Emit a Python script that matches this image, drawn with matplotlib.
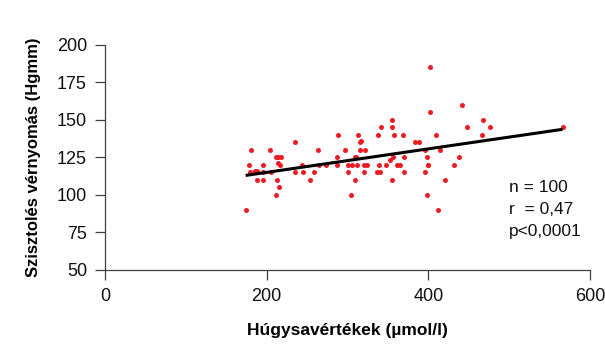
import numpy as np
import matplotlib
matplotlib.use("Agg")
import matplotlib.pyplot as plt

plt.rcParams['font.family'] = ['Liberation Sans', 'DejaVu Sans']

# Uric acid (µmol/l) and systolic blood pressure (Hgmm) per patient
uric_acid = [
    181, 235, 204, 178, 195, 179, 185, 188, 196, 205, 211, 214, 218, 214, 216,
    188, 195, 213, 215, 211, 174, 235, 244, 245, 254, 259,
    264, 265, 273, 288, 297, 287, 287, 313, 315, 317, 315, 322, 309, 311,
    301, 306, 312, 320, 324, 339, 300, 320, 336, 340, 309, 304, 338, 341,
    402, 402, 355, 355, 357, 368, 409, 384, 389, 396, 414, 370, 356, 352,
    398, 348, 361, 365, 399, 400, 432, 370, 396, 421, 355, 398, 412,
    442, 468, 448, 476, 466, 438, 566,
]
systolic = [
    130, 135, 130, 120, 120, 115, 116, 116, 115, 115, 125, 125, 125, 121, 120,
    110, 110, 110, 105, 100, 90, 115, 120, 115, 110, 115,
    130, 120, 120, 140, 130, 125, 120, 140, 135, 136, 130, 130, 125, 125,
    120, 120, 120, 120, 120, 120, 115, 115, 115, 115, 110, 100, 140, 145,
    185, 155, 150, 145, 140, 140, 140, 135, 135, 130, 130, 125, 125, 123,
    125, 120, 120, 120, 120, 120, 120, 115, 115, 110, 110, 100, 90,
    160, 150, 145, 145, 140, 125, 145,
]

# Linear regression line
fit_slope = 0.0784
fit_intercept = 99.4

stats_lines = ["n = 100", "r  = 0,47", "p<0,0001"]

x_ticks = [0, 200, 400, 600]
y_ticks = [50, 75, 100, 125, 150, 175, 200]

fig = plt.figure(figsize=(6.05, 3.45), dpi=100)
ax = fig.add_axes([0.1736, 0.2174, 0.8017, 0.6522])

ax.scatter(uric_acid, systolic, s=13, color='#EC1C24', linewidths=0, zorder=2)

x_fit = np.array([min(uric_acid), max(uric_acid)])
ax.plot(x_fit, fit_intercept + fit_slope * x_fit, color='black', lw=2.2,
        solid_capstyle='butt', zorder=3)

ax.set_xlim(0, 600)
ax.set_ylim(50, 200)
ax.set_xticks(x_ticks)
ax.set_yticks(y_ticks)

for side in ('top', 'right'):
    ax.spines[side].set_visible(False)
for side in ('left', 'bottom'):
    ax.spines[side].set_color('#404040')
    ax.spines[side].set_linewidth(0.9)

ax.tick_params(axis='both', direction='out', length=7, width=0.9,
               color='#404040', labelsize=13, labelcolor='#111111', pad=6)

ax.set_xlabel('Húgysavértékek (µmol/l)', fontsize=12.5, fontweight='bold',
              labelpad=13)
ax.set_ylabel('Szisztolés vérnyomás (Hgmm)', fontsize=12, fontweight='bold',
              labelpad=11)

for i, line in enumerate(stats_lines):
    ax.text(0.833, 0.365 - i * 0.098, line, transform=ax.transAxes,
            fontsize=12.5, ha='left', va='center', color='#111111')

fig.savefig('out.png', dpi=100)
